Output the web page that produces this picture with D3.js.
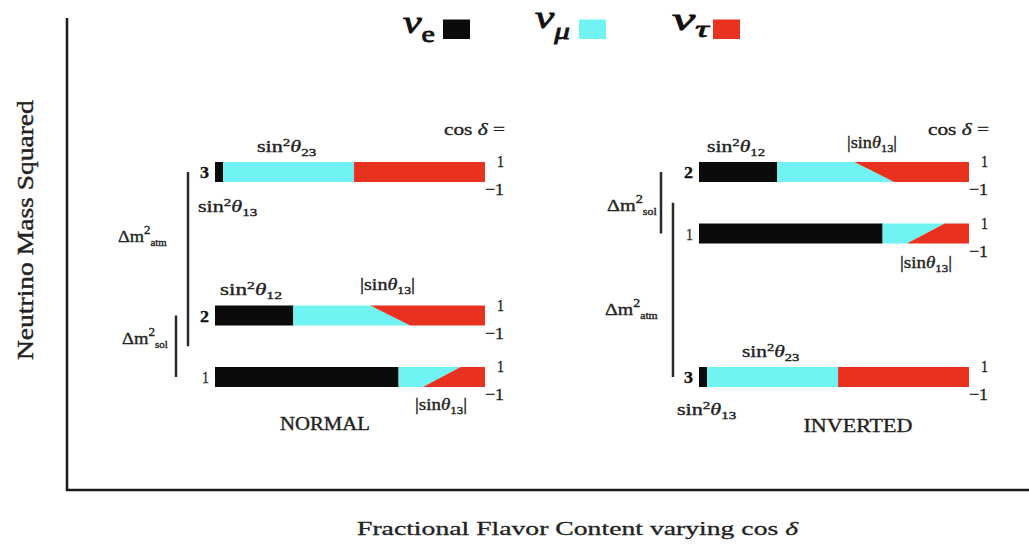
<!DOCTYPE html>
<html><head><meta charset="utf-8">
<script src="https://cdn.jsdelivr.net/npm/d3@7"></script>
<style>body{margin:0;background:#fff}svg{display:block}</style>
</head><body><svg id="c" width="1029" height="544"></svg>
<script>
// ---- data ----
const massStates = ["1", "2", "3"];
const nueFraction = [0.68, 0.29, 0.03];          // |U_e i|^2
const numuFractionCosPlus = [0.23, 0.285, 0.485];  // |U_mu i|^2 at cos δ = 1
const numuFractionCosMinus = [0.09, 0.433, 0.485]; // |U_mu i|^2 at cos δ = -1
const normalMassSq = [0, 0.30, 1.0];
const invertedMassSq = [0.70, 1.0, 0];
const cosDeltaTicks = [1, -1];
const flavorNames = ["e", "μ", "τ"];
const flavorColors = ["#0b0b0b", "#6ff3f3", "#e8321f"];
const hierarchyNames = ["NORMAL", "INVERTED"];

const svg = d3.select("#c");
const FONT = "'Liberation Serif','Times New Roman',serif";

// text helper: parts = [{t, sup, sub, it, size}], fitted to width w
function label(x, y, parts, o) {
  o = o || {};
  const size = o.size || 15;
  const fill = o.fill || "#222";
  const t = svg.append("text").attr("font-family", FONT).attr("font-size", size)
    .attr("fill", fill).attr("font-weight", o.weight || "normal")
    .attr("stroke", fill).attr("stroke-width", o.stroke == null ? 0.35 : o.stroke);
  let off = 0;
  parts.forEach(p => {
    if (typeof p === "string") p = {t: p};
    let target = 0;
    if (p.sup) target = -(p.shift || size * 0.4);
    if (p.sub) target = (p.shift || size * 0.25);
    const ts = t.append("tspan").text(p.t).attr("dy", target - off);
    off = target;
    if (p.sup || p.sub) ts.attr("font-size", p.size || size * 0.68);
    else if (p.size) ts.attr("font-size", p.size);
    if (p.it) ts.attr("font-style", "italic");
  });
  const bb = t.node().getBBox();
  let sx = o.w ? o.w / bb.width : 1;
  let x0 = x;
  if (o.anchor === "end") x0 = x - bb.width * sx;
  if (o.anchor === "middle") x0 = x - bb.width * sx / 2;
  t.attr("transform", `translate(${x0 - bb.x * sx},${y}) scale(${sx},1)`);
  if (o.rotate) t.attr("transform", `translate(${x},${y}) rotate(-90) translate(${-bb.width * sx / 2 - bb.x * sx},0) scale(${sx},1)`);
  return t;
}

// ---- axes frame ----
svg.append("line").attr("x1", 67).attr("x2", 67).attr("y1", 18).attr("y2", 491)
  .attr("stroke", "#1a1a1a").attr("stroke-width", 2.5);
svg.append("line").attr("x1", 66).attr("x2", 1029).attr("y1", 490).attr("y2", 490)
  .attr("stroke", "#1a1a1a").attr("stroke-width", 2.5);
label(33, 230, ["Neutrino Mass Squared"], {size: 24, w: 260, rotate: true, stroke: 0.4});
label(357, 535, ["Fractional Flavor Content varying cos ", {t: "δ", it: true}], {size: 19, w: 443, stroke: 0.3});

// ---- legend ----
const legendPos = [
  {x: 403, w: 32, base: 33, sq: 443, sub: 9},
  {x: 535, w: 35, base: 28, sq: 579, sub: 11},
  {x: 672, w: 38, base: 30, sq: 713, sub: 7}
];
flavorNames.forEach((f, i) => {
  const p = legendPos[i];
  label(p.x, p.base, [{t: "ν", it: true}, {t: f, sub: true, shift: p.sub, size: 23, it: i > 0}], {size: 32, w: p.w, fill: "#111", stroke: 0.8});
  svg.append("rect").attr("x", p.sq).attr("y", 19.5).attr("width", 27).attr("height", 19.5)
    .attr("fill", flavorColors[i]);
});

// ---- scales ----
const yScale = d3.scaleLinear().domain([0, 1]).range([377, 172]);
const BAR_H = 20;
const panels = [
  {name: hierarchyNames[0], mass: normalMassSq, x: d3.scaleLinear().domain([0, 1]).range([215, 485])},
  {name: hierarchyNames[1], mass: invertedMassSq, x: d3.scaleLinear().domain([0, 1]).range([699, 969])}
];

panels.forEach(p => {
  const x = p.x;
  massStates.forEach((s, i) => {
    const yc = yScale(p.mass[i]);
    const cosY = d3.scaleLinear().domain([1, -1]).range([yc - BAR_H / 2, yc + BAR_H / 2]);
    const top = cosY(1), bot = cosY(-1);
    const e = nueFraction[i];
    const muTop = e + numuFractionCosPlus[i], muBot = e + numuFractionCosMinus[i];
    const poly = pts => "M" + pts.map(q => q.join(",")).join("L") + "Z";
    svg.append("path").attr("fill", flavorColors[0])
      .attr("d", poly([[x(0), top], [x(e), top], [x(e), bot], [x(0), bot]]));
    svg.append("path").attr("fill", flavorColors[1])
      .attr("d", poly([[x(e), top], [x(muTop), top], [x(muBot), bot], [x(e), bot]]));
    svg.append("path").attr("fill", flavorColors[2])
      .attr("d", poly([[x(muTop), top], [x(1), top], [x(1), bot], [x(muBot), bot]]));
    // cos δ tick labels
    label(x(1) + 19, top + 5, [String(cosDeltaTicks[0])], {size: 17, anchor: "end", w: 7});
    label(x(1) + 19, bot + 13, ["−" + Math.abs(cosDeltaTicks[1])], {size: 17, anchor: "end", w: 19});
    // mass state label
    const bold = s !== "1";
    label(x(0) - 6, yc + 6, [s], {size: 17, anchor: "end", weight: bold ? "bold" : "normal", fill: bold ? "#111" : "#333", w: bold ? 9 : 7});
  });
  label(x(1) + 20, 135, ["cos ", {t: "δ", it: true}, " ="], {size: 16, anchor: "end", w: 61});
});

// ---- annotations ----
function sin2(idx) { return ["sin", {t: "2", sup: true}, {t: "θ", it: true}, {t: idx, sub: true}]; }
function sinAbs() { return ["|sin", {t: "θ", it: true}, {t: "13", sub: true}, "|"]; }
function dm(sub) { return ["Δm", {t: "2", sup: true, shift: 8, size: 12}, {t: sub, sub: true, shift: 4, size: 10}]; }

// normal
label(257, 152, sin2("23"), {w: 60, size: 16});
label(198, 212, sin2("13"), {w: 60, size: 16});
label(220, 295, sin2("12"), {w: 62, size: 16});
label(360, 290, sinAbs(), {w: 55, size: 16});
label(415, 410, sinAbs(), {w: 52, size: 16});
label(325, 430, [hierarchyNames[0]], {size: 19, anchor: "middle", w: 90});
label(118, 242, dm("atm"), {w: 49, size: 17});
label(122, 344, dm("sol"), {w: 46, size: 17});

// inverted
label(707, 152, sin2("12"), {w: 58, size: 16});
label(847, 148, sinAbs(), {w: 50, size: 16});
label(900, 268, sinAbs(), {w: 52, size: 16});
label(742, 357, sin2("23"), {w: 58, size: 16});
label(677, 415, sin2("13"), {w: 60, size: 16});
label(858, 432, [hierarchyNames[1]], {size: 19, anchor: "middle", w: 109});
label(607, 211, dm("sol"), {w: 50, size: 17});
label(605, 315, dm("atm"), {w: 53, size: 17});

// ---- Δm² brackets ----
function vline(xp, y1, y2) {
  svg.append("line").attr("x1", xp).attr("x2", xp).attr("y1", y1).attr("y2", y2)
    .attr("stroke", "#2a2a2a").attr("stroke-width", 2.5);
}
const nm = normalMassSq.map(yScale), im = invertedMassSq.map(yScale);
vline(188, nm[2], (nm[0] + nm[1]) / 2);   // atm, normal
vline(176, nm[1], nm[0]);                   // sol, normal
vline(661, im[1], im[0]);                   // sol, inverted
vline(673, (im[0] + im[1]) / 2, im[2]);     // atm, inverted
</script></body></html>
